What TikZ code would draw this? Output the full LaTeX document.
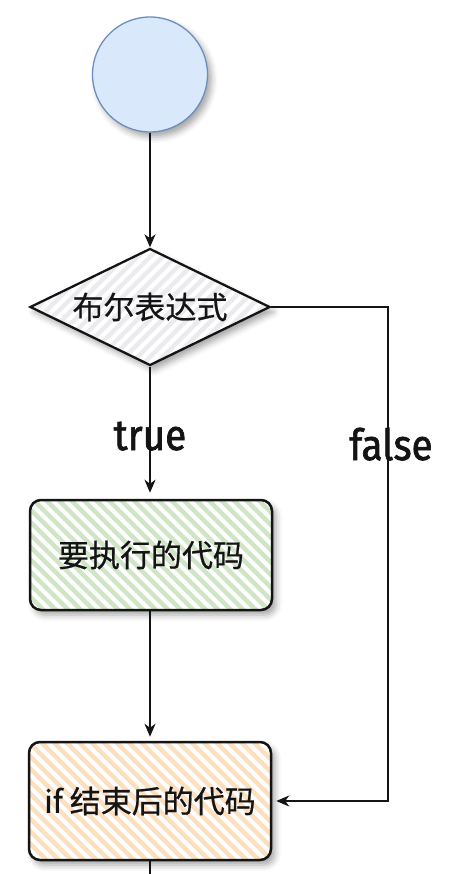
\documentclass[tikz,border=0pt]{standalone}
\usepackage{fontspec}
\newfontfamily\cjk[FakeBold=0.6]{Noto Sans CJK SC}
\newfontfamily\lblfont[FakeStretch=0.9,FakeBold=1.6]{Fira Sans}
\usetikzlibrary{shapes.geometric,arrows.meta,shadows.blur}

\definecolor{startfill}{HTML}{DAE8FC}
\definecolor{startline}{HTML}{6C8EBF}
\definecolor{greenhatch}{HTML}{CFE5C6}
\definecolor{orangehatch}{HTML}{FCDFBE}
\definecolor{grayhatch}{HTML}{EBEBEF}
\definecolor{ink}{HTML}{141414}

\tikzset{
  % diagonal hachure fill, stripes running top-left to bottom-right
  hatchdown/.style={path picture={
    \foreach \k in {-45,...,45}{
      \draw[#1,line width=4.5pt]
        ([xshift=\k*12.5pt-250pt,yshift=250pt]path picture bounding box.center)
        -- ++(500pt,-500pt);}}},
  % diagonal hachure fill, stripes running bottom-left to top-right
  hatchup/.style={path picture={
    \foreach \k in {-45,...,45}{
      \draw[#1,line width=4.5pt]
        ([xshift=\k*12.5pt-250pt,yshift=-250pt]path picture bounding box.center)
        -- ++(500pt,500pt);}}},
  shadowed/.style={blur shadow={shadow xshift=4pt,shadow yshift=-5pt,
    shadow blur radius=6pt,shadow opacity=35}},
  startnode/.style={circle,minimum size=115pt,inner sep=0pt,fill=startfill,
    draw=startline,line width=1.3pt,shadowed},
  decision/.style={diamond,aspect=2.05,minimum width=240pt,minimum height=117pt,
    inner sep=0pt,draw=ink,line width=2.3pt,fill=white,hatchup=grayhatch,
    shadowed,font=\cjk\fontsize{31}{31}\selectfont,text=ink},
  codebox/.style={rectangle,rounded corners=11pt,minimum width=242pt,
    inner sep=0pt,draw=ink,line width=2.5pt,fill=white,shadowed,
    font=\cjk\fontsize{31}{31}\selectfont,text=ink},
  flow/.style={draw=ink,line width=1.9pt},
  arrow/.style={flow,-{Stealth[length=13pt,width=11pt,inset=4pt]}},
  lbl/.style={font=\lblfont\fontsize{43}{43}\selectfont,text=ink,
    anchor=base,inner sep=0pt}
}

\begin{document}
\begin{tikzpicture}[x=1pt,y=-1pt]
  \useasboundingbox (0,0) rectangle (458,874);

  % shapes
  \node[startnode] (start) at (150,74.5) {};
  \node[decision] (cond) at (150,307) {布尔表达式};
  \node[codebox,minimum height=110pt,hatchdown=greenhatch] (body) at (151,555) {要执行的代码};
  \node[codebox,minimum height=118pt,hatchdown=orangehatch] (after) at (150,801) {if 结束后的代码};

  % helper points for the false branch and the outgoing line
  \coordinate (fx) at (388,307);
  \coordinate (exit) at (150,874);

  % connectors
  \draw[arrow] (start) -- (cond.north);
  \draw[arrow,shorten >=6pt] (cond.south) -- (cond.south |- body.north);
  \draw[arrow,shorten >=4pt] (body.south -| after.north) -- (after.north);
  \draw[arrow,shorten >=4pt] (cond.east) -- (fx) |- (after.east);
  \draw[flow] (after.south) -- (exit);

  % branch labels
  \node[lbl] (ltrue) at (150,450) {true};
  \node[lbl] (lfalse) at (391,460) {false};
\end{tikzpicture}
\end{document}
